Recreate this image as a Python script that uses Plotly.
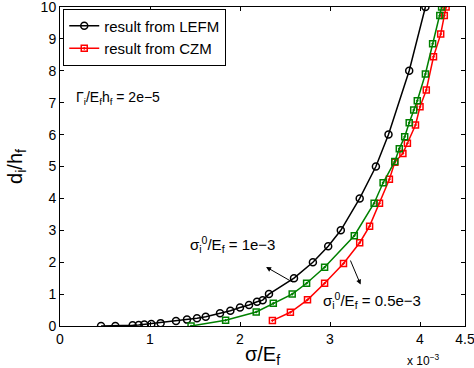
import plotly.graph_objects as go

# LEFM (black circles)
lefm_x = [0.456, 0.615, 0.807, 0.874, 0.937, 1.015, 1.118, 1.289, 1.411, 1.522, 1.619, 1.778,
          1.893, 2.0, 2.1, 2.189, 2.252, 2.322, 2.6, 2.81, 2.98, 3.12, 3.33, 3.51, 3.65, 3.88, 4.06]
lefm_y = [0.0, 0.0, 0.02, 0.03, 0.05, 0.06, 0.09, 0.16, 0.20, 0.24, 0.29, 0.40,
          0.48, 0.58, 0.66, 0.76, 0.81, 1.0, 1.5, 2.0, 2.5, 3.0, 4.0, 5.0, 6.0, 8.0, 10.0]

# CZM, sigma_i0/E_f = 1e-3 (green squares)
czm1_x = [1.456, 1.84, 2.18, 2.37, 2.58, 2.74, 2.94, 3.27, 3.49, 3.59, 3.72, 3.77, 3.83, 3.88,
          3.93, 3.97, 4.06, 4.14, 4.22, 4.24]
czm1_y = [0.0, 0.18, 0.44, 0.71, 1.0, 1.34, 1.84, 2.83, 3.85, 4.49, 5.16, 5.56, 5.93, 6.37,
          6.77, 7.06, 7.9, 8.85, 9.73, 10.0]

# CZM, sigma_i0/E_f = 0.5e-3 (red squares)
czm2_x = [2.36, 2.56, 2.75, 2.94, 3.15, 3.33, 3.44, 3.55, 3.66, 3.72, 3.81, 3.86, 3.95,
          4.0, 4.07, 4.15, 4.23, 4.27, 4.29]
czm2_y = [0.17, 0.43, 0.82, 1.34, 1.96, 2.61, 3.13, 3.85, 4.6, 5.13, 5.41, 5.73, 6.3,
          6.87, 7.4, 8.44, 9.15, 9.73, 10.0]

x_ticks = [0, 1, 2, 3, 4, 4.5]
x_tick_text = ["0", "1", "2", "3", "4", "4.5"]
y_ticks = list(range(0, 11))

FONT = "Liberation Sans, Arial, sans-serif"

fig = go.Figure()
fig.add_trace(go.Scatter(x=lefm_x, y=lefm_y, mode="lines+markers", name="result from LEFM",
                         line=dict(color="black", width=1.5),
                         marker=dict(symbol="circle-open", size=7, color="black", line=dict(width=1.5))))
fig.add_trace(go.Scatter(x=czm2_x, y=czm2_y, mode="lines+markers", name="result from CZM",
                         line=dict(color="#ff0000", width=1.5),
                         marker=dict(symbol="square-open-dot", size=6, color="#ff0000", line=dict(width=1.5))))
fig.add_trace(go.Scatter(x=czm1_x, y=czm1_y, mode="lines+markers", name="czm1", showlegend=False,
                         line=dict(color="#008000", width=1.5),
                         marker=dict(symbol="square-open-dot", size=6, color="#008000", line=dict(width=1.5))))

fig.update_layout(
    width=474, height=368,
    margin=dict(l=60, r=9, t=7, b=42, autoexpand=False),
    plot_bgcolor="white", paper_bgcolor="white",
    font=dict(family=FONT, size=13, color="black"),
    showlegend=True,
    legend=dict(x=0.008, y=0.995, xanchor="left", yanchor="top",
                bgcolor="white", bordercolor="black", borderwidth=1,
                font=dict(size=15), tracegroupgap=0, itemwidth=30),
)
fig.update_xaxes(range=[0, 4.5], tickvals=x_ticks, ticktext=x_tick_text,
                 ticks="inside", ticklen=4, tickcolor="black", ticklabeloverflow="allow",
                 tickfont=dict(size=14),
                 showline=True, linecolor="black", linewidth=1, mirror="ticks",
                 showgrid=False, zeroline=False, automargin=False,
                 title=dict(text="σ/E<sub>f</sub>", font=dict(size=20), standoff=2))
fig.update_yaxes(range=[0, 10], tickvals=y_ticks,
                 ticks="inside", ticklen=4, tickcolor="black", ticklabeloverflow="allow",
                 tickfont=dict(size=14),
                 showline=True, linecolor="black", linewidth=1, mirror="ticks",
                 showgrid=False, zeroline=False, automargin=False,
                 title=dict(text="d<sub>i</sub>/h<sub>f</sub>", font=dict(size=20), standoff=12))

fig.add_annotation(x=0.15, y=7.15, xref="x", yref="y", xanchor="left", showarrow=False,
                   text="Γ<sub>i</sub>/E<sub>f</sub>h<sub>f</sub> = 2e−5", font=dict(size=14))
fig.add_annotation(x=1.42, y=2.55, xref="x", yref="y", xanchor="left", showarrow=False,
                   text="σ<sub>i</sub><sup>0</sup>/E<sub>f</sub> = 1e−3", font=dict(size=15))
fig.add_annotation(x=2.29, y=1.85, ax=2.6, ay=1.35, xref="x", yref="y", axref="x", ayref="y",
                   text="", showarrow=True, arrowhead=2, arrowsize=1, arrowwidth=1, arrowcolor="black")
fig.add_annotation(x=2.9, y=0.8, xref="x", yref="y", xanchor="left", showarrow=False,
                   text="σ<sub>i</sub><sup>0</sup>/E<sub>f</sub> = 0.5e−3", font=dict(size=15))
fig.add_annotation(x=3.34, y=1.3, ax=3.22, ay=2.1, xref="x", yref="y", axref="x", ayref="y",
                   text="", showarrow=True, arrowhead=2, arrowsize=1, arrowwidth=1, arrowcolor="black")
fig.add_annotation(x=4.24, y=-0.075, xref="x", yref="paper", xanchor="right", yanchor="top",
                   showarrow=False, text="x 10<sup>−3</sup>", font=dict(size=12))

fig.write_html("out.html", config={"displayModeBar": False},
               post_script="document.body.style.margin='0';document.body.style.padding='0';")
